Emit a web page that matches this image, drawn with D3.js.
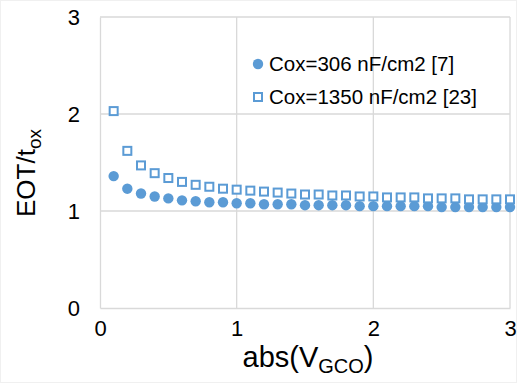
<!DOCTYPE html>
<html><head><meta charset="utf-8">
<script src="https://cdn.jsdelivr.net/npm/d3@7"></script>
<style>body{margin:0;background:#fff}svg{display:block}text{font-family:Arial,"Liberation Sans",sans-serif;fill:#000}</style>
</head><body><svg id="c" width="517" height="383"></svg>
<script>
const xValues = [0.1,0.2,0.3,0.4,0.5,0.6,0.7,0.8,0.9,1.0,1.1,1.2,1.3,1.4,1.5,1.6,1.7,1.8,1.9,2.0,2.1,2.2,2.3,2.4,2.5,2.6,2.7,2.8,2.9,3.0];
const cox306 = [1.36,1.23,1.18,1.15,1.13,1.11,1.10,1.09,1.09,1.08,1.08,1.07,1.07,1.07,1.06,1.06,1.06,1.06,1.05,1.05,1.05,1.05,1.05,1.05,1.04,1.04,1.04,1.04,1.04,1.04];
const cox1350 = [2.03,1.62,1.47,1.39,1.34,1.30,1.27,1.25,1.23,1.22,1.21,1.20,1.19,1.18,1.17,1.17,1.16,1.16,1.15,1.15,1.14,1.14,1.14,1.13,1.13,1.13,1.12,1.12,1.12,1.12];
const xTicks = [0,1,2,3];
const yTicks = [0,1,2,3];
const legendLabels = ["Cox=306 nF/cm2 [7]","Cox=1350 nF/cm2 [23]"];
const color = "#5b9bd5";

const svg = d3.select("#c");
const L=100, R=510, T=17, B=308;
const x = d3.scaleLinear().domain([0,3]).range([L,R]);
const y = d3.scaleLinear().domain([0,3]).range([B,T]);

svg.append("rect").attr("x",0.5).attr("y",0.5).attr("width",516).attr("height",382).attr("fill","none").attr("stroke","#f0f0f0");

// gridlines
svg.append("g").selectAll("line").data(yTicks.filter(d=>d>0)).join("line")
  .attr("x1",L).attr("x2",R).attr("y1",d=>y(d)).attr("y2",d=>y(d))
  .attr("stroke","#d9d9d9").attr("stroke-width",1.3);
svg.append("g").selectAll("line").data(xTicks.filter(d=>d>0)).join("line")
  .attr("y1",T).attr("y2",B).attr("x1",d=>x(d)).attr("x2",d=>x(d))
  .attr("stroke","#d9d9d9").attr("stroke-width",1.3);

// axes
const xa = svg.append("g").attr("transform",`translate(0,${B})`).call(d3.axisBottom(x).tickValues(xTicks).tickSize(0).tickPadding(12).tickFormat(d3.format("d")));
xa.select(".domain").attr("stroke","#d9d9d9").attr("stroke-width",1.3);
xa.selectAll("text").attr("font-size",22).attr("font-family","Arial, Liberation Sans, sans-serif");
const ya = svg.append("g").attr("transform",`translate(${L},0)`).call(d3.axisLeft(y).tickValues(yTicks).tickSize(0).tickPadding(20).tickFormat(d3.format("d")));
ya.select(".domain").attr("stroke","#d9d9d9").attr("stroke-width",1.3);
ya.selectAll("text").attr("font-size",22).attr("font-family","Arial, Liberation Sans, sans-serif");

// series
svg.append("g").selectAll("circle").data(xValues).join("circle")
  .attr("cx",(d)=>x(d)).attr("cy",(d,i)=>y(cox306[i])).attr("r",5.2).attr("fill",color);
const s=8;
svg.append("g").selectAll("rect").data(xValues).join("rect")
  .attr("x",d=>x(d)-s/2).attr("y",(d,i)=>y(cox1350[i])-s/2).attr("width",s).attr("height",s)
  .attr("fill","#fff").attr("stroke",color).attr("stroke-width",2);

// legend
const lg = svg.append("g");
lg.append("circle").attr("cx",258).attr("cy",64).attr("r",5.2).attr("fill",color);
lg.append("rect").attr("x",254).attr("y",93).attr("width",s).attr("height",s).attr("fill","#fff").attr("stroke",color).attr("stroke-width",2);
lg.selectAll("text").data(legendLabels).join("text")
  .attr("x",269).attr("y",(d,i)=>64+i*33).attr("dy","0.35em").attr("font-size",20.5).text(d=>d);

// axis titles
const xt = svg.append("text").attr("x",308).attr("y",367).attr("text-anchor","middle").attr("font-size",29);
xt.append("tspan").text("abs(V");
xt.append("tspan").attr("font-size",20).attr("dy",6).text("GCO");
xt.append("tspan").attr("dy",-6).text(")");
const yt = svg.append("text").attr("transform","translate(35,173) rotate(-90)").attr("text-anchor","middle").attr("font-size",26);
yt.append("tspan").text("EOT/t");
yt.append("tspan").attr("font-size",19).attr("dy",6).text("ox");
</script></body></html>
